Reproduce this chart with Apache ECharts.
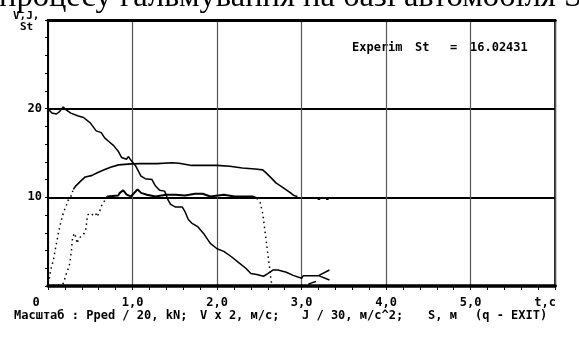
<!DOCTYPE html>
<html>
<head>
<meta charset="utf-8">
<script src="https://cdn.jsdelivr.net/npm/echarts@6/dist/echarts.min.js"></script>
<style>
html, body { margin: 0; padding: 0; background: #fff; }
#main { width: 579px; height: 338px; }
</style>
</head>
<body>
<div id="main"></div>
<script>
// осі: час, с
var xTicks = [0, 1, 2, 3, 4, 5, 6];
var xTickLabels = ['0', '1,0', '2,0', '3,0', '4,0', '5,0', 't,с'];
var yTicks = [0, 10, 20, 30];
var yTickLabels = ['', '10', '20', ''];

// V x 2
var speed = [[0,20.0],[0.045,19.5],[0.10,19.4],[0.14,19.7],[0.18,20.2],[0.21,19.9],[0.27,19.5],[0.35,19.2],
  [0.42,19.0],[0.50,18.4],[0.57,17.5],[0.63,17.3],[0.67,16.7],[0.72,16.3],[0.78,15.8],[0.83,15.2],[0.87,14.5],
  [0.93,14.3],[0.95,14.6],[0.98,14.2],[1.04,13.5],[1.10,12.4],[1.15,12.1],[1.23,12.0],[1.27,11.3],[1.32,10.8],
  [1.38,10.7],[1.42,9.7],[1.45,9.2],[1.51,8.9],[1.59,8.9],[1.62,8.4],[1.66,7.5],[1.70,7.1],[1.77,6.7],[1.85,5.8],
  [1.92,4.8],[2.0,4.2],[2.08,3.9],[2.17,3.3],[2.26,2.6],[2.34,2.0],[2.40,1.4],[2.47,1.3],[2.55,1.1],[2.60,1.4],
  [2.66,1.8],[2.72,1.8],[2.82,1.55],[2.90,1.2],[3.0,0.87],[3.02,1.17],[3.2,1.17]];
var speedUp = [[3.2,1.17],[3.33,1.8]];
var speedDown = [[3.2,1.17],[3.33,0.68]];

// Pped / 20
var pedalRise = [[0,0.3],[0.015,0.87],[0.037,2.0],[0.064,2.9],[0.082,3.9],[0.10,4.8],[0.12,5.8],[0.139,6.7],
  [0.165,7.66],[0.187,8.4],[0.214,9.0],[0.24,9.7],[0.27,10.1],[0.30,10.9]];
var pedalHold = [[0.30,10.9],[0.33,11.3],[0.383,11.8],[0.44,12.3],[0.515,12.45],[0.59,12.8],[0.665,13.1],
  [0.74,13.4],[0.835,13.66],[0.985,13.77],[1.1,13.8],[1.29,13.8],[1.47,13.9],[1.55,13.85],[1.70,13.6],[1.85,13.6],
  [2.0,13.6],[2.15,13.5],[2.30,13.3],[2.45,13.2],[2.54,13.1],[2.58,12.75],[2.64,12.2],[2.70,11.6],[2.75,11.3],
  [2.81,10.9],[2.87,10.5],[2.91,10.2],[2.95,10.1]];
var pedalTail = [[3.19,9.8],[3.22,9.8],[3.25,'-'],[3.29,9.8],[3.32,9.8]];

// J / 30
var decelRise = [[0,0],[0.176,0.2],[0.195,0.68],[0.214,1.3],[0.233,1.8],[0.25,2.2],[0.263,2.94],[0.278,4.07],
  [0.29,5.4],[0.31,5.96],[0.327,5.58],[0.345,4.8],[0.365,5.4],[0.39,5.58],[0.41,5.4],[0.43,5.96],[0.45,6.5],
  [0.466,8.0],[0.50,8.2],[0.534,8.0],[0.564,8.2],[0.58,7.8],[0.61,8.4],[0.63,9.0],[0.70,10.1]];
var decelHold = [[0.70,10.1],[0.83,10.2],[0.85,10.5],[0.89,10.8],[0.93,10.3],[0.98,10.1],[1.06,10.9],[1.10,10.5],
  [1.17,10.3],[1.27,10.1],[1.40,10.3],[1.51,10.3],[1.62,10.2],[1.74,10.4],[1.83,10.4],[1.92,10.1],[2.08,10.3],
  [2.21,10.1],[2.42,10.1],[2.47,9.9]];
var decelDrop = [[2.47,9.9],[2.51,9.4],[2.54,8.2],[2.56,6.7],[2.58,5.2],[2.60,3.7],[2.62,2.2],[2.64,0.5],[2.66,0.2]];
var decelTail = [[3.08,0.2],[3.12,0.35],[3.17,0.5]];

var stValue = '16.02431';

var mono = '"DejaVu Sans Mono", monospace';

function line(data, dotted, width) {
  return {
    type: 'line',
    data: data,
    showSymbol: false,
    symbol: 'none',
    silent: true,
    connectNulls: false,
    lineStyle: {
      color: '#000',
      width: width || 1.5,
      type: dotted ? [1.5, 3.5] : 'solid'
    },
    z: 5
  };
}

function txt(s, x, y, font) {
  return {
    type: 'text', x: x, y: y, silent: true,
    style: { text: s, font: font || ('bold 12px ' + mono), fill: '#000',
      align: 'left', textAlign: 'left', verticalAlign: 'middle', textVerticalAlign: 'middle' }
  };
}

var chart = echarts.init(document.getElementById('main'));
chart.setOption({
  animation: false,
  backgroundColor: '#fff',
  grid: { left: 48, top: 20, right: 3, bottom: 52, show: true, borderColor: '#000', borderWidth: 2 },
  xAxis: [{
    type: 'value', min: 0, max: 6, interval: 1,
    axisLine: { show: true, lineStyle: { color: '#000', width: 3.5 } },
    axisTick: { show: true, length: 4, lineStyle: { color: '#000', width: 1 } },
    minorTick: { show: true, splitNumber: 5, length: 4, lineStyle: { color: '#000', width: 1 } },
    splitLine: { show: true, lineStyle: { color: '#555', width: 1.2 } },
    axisLabel: {
      margin: 10, color: '#000', fontFamily: mono, fontWeight: 'bold', fontSize: 12, lineHeight: 13,
      formatter: function (v) {
        var s = xTickLabels[xTicks.indexOf(v)];
        if (v === 0) return '{a|' + s + '}';
        if (v === 6) return '{b|' + s + '}';
        return s;
      },
      rich: {
        a: { padding: [0, 24, 0, 0], fontFamily: mono, fontWeight: 'bold', fontSize: 12, color: '#000' },
        b: { padding: [0, 20, 0, 0], fontFamily: mono, fontWeight: 'bold', fontSize: 12, color: '#000' }
      }
    }
  }, {
    type: 'value', min: 0, max: 6, position: 'top',
    axisLine: { show: true, lineStyle: { color: '#000', width: 3 } },
    axisTick: { show: false }, axisLabel: { show: false }, splitLine: { show: false }
  }],
  yAxis: {
    type: 'value', min: 0, max: 30, interval: 10,
    axisLine: { show: true, lineStyle: { color: '#000', width: 2 } },
    axisTick: { show: true, length: 3, lineStyle: { color: '#000' } },
    minorTick: { show: true, splitNumber: 5, length: 3, lineStyle: { color: '#000' } },
    splitLine: { show: true, lineStyle: { color: '#000', width: 2 } },
    axisLabel: {
      margin: 6, color: '#000', fontFamily: mono, fontWeight: 'bold', fontSize: 12,
      formatter: function (v) { return yTickLabels[yTicks.indexOf(v)]; }
    }
  },
  graphic: [
    txt('процесу гальмування на базі автомобіля S', -1, -3, '32.5px "Liberation Serif", serif'),
    txt('V,J,', 13, 16.5, 'bold 11px ' + mono),
    txt('St', 20, 27, 'bold 11px ' + mono),
    txt('Experim', 352, 47.5),
    txt('St', 415, 47.5),
    txt('=', 450, 47.5),
    txt(stValue, 470, 47.5),
    txt('Масштаб : Pped / 20, kN;', 14, 315.5),
    txt('V x 2, м/с;', 200, 315.5),
    txt('J / 30, м/с^2;', 302, 315.5),
    txt('S, м', 428, 315.5),
    txt('(q - EXIT)', 475, 315.5)
  ],
  series: [
    line(speed, false, 1.5),
    line(speedUp, false, 1.5),
    line(speedDown, false, 1.5),
    line(pedalRise, true, 1.5),
    line(pedalHold, false, 1.6),
    line(pedalTail, false, 2),
    line(decelRise, true, 1.5),
    line(decelHold, false, 2),
    line(decelDrop, true, 1.5),
    line(decelTail, false, 1.5)
  ]
});
</script>
</body>
</html>
